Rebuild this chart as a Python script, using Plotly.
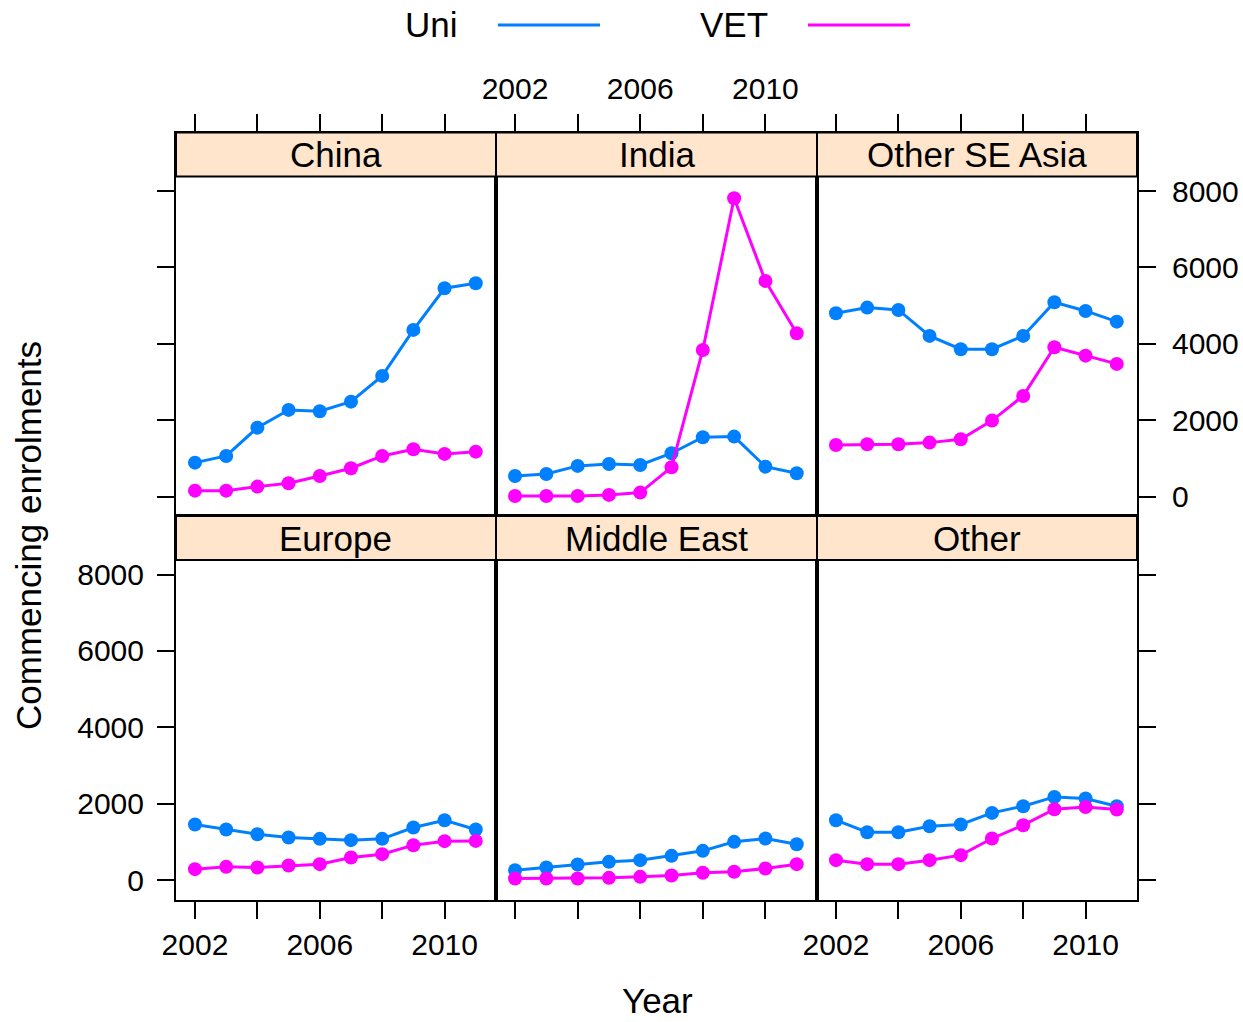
import plotly.graph_objects as go

years = list(range(2002, 2012))
regions = ["China", "India", "Other SE Asia", "Europe", "Middle East", "Other"]

uni_china = [890, 1065, 1806, 2270, 2236, 2487, 3160, 4364, 5455, 5586]
vet_china = [157, 157, 262, 351, 542, 743, 1065, 1241, 1118, 1178]
uni_india = [542, 594, 804, 856, 830, 1136, 1555, 1571, 785, 613]
vet_india = [18, 18, 18, 45, 105, 770, 3840, 7811, 5647, 4277]
uni_seasia = [4801, 4948, 4887, 4207, 3859, 3859, 4207, 5089, 4861, 4581]
vet_seasia = [1353, 1372, 1372, 1414, 1503, 1990, 2636, 3911, 3691, 3474]
uni_europe = [1456, 1325, 1203, 1116, 1080, 1046, 1080, 1378, 1569, 1325]
vet_europe = [288, 348, 332, 384, 418, 593, 680, 915, 1020, 1027]
uni_mideast = [261, 332, 410, 479, 523, 636, 767, 1002, 1089, 941]
vet_mideast = [44, 44, 44, 60, 86, 122, 192, 218, 305, 418]
uni_other = [1569, 1255, 1255, 1412, 1456, 1760, 1935, 2178, 2136, 1935]
vet_other = [523, 418, 418, 523, 654, 1090, 1438, 1856, 1916, 1848]

uni_series = [uni_china, uni_india, uni_seasia, uni_europe, uni_mideast, uni_other]
vet_series = [vet_china, vet_india, vet_seasia, vet_europe, vet_mideast, vet_other]

x_tickvals = [2002, 2004, 2006, 2008, 2010]
x_ticktext = ["2002", "", "2006", "", "2010"]
y_tickvals = [0, 2000, 4000, 6000, 8000]
y_ticktext = ["0", "2000", "4000", "6000", "8000"]

UNI_COL = "#0080ff"
VET_COL = "#ff00ff"
STRIP_COL = "#ffe5cc"
FONT = "Liberation Sans, Arial, Helvetica, sans-serif"

W, H = 1243, 1022
def px(x): return x / W
def py(y): return 1 - y / H

col_edges = [(176, 496), (496, 817), (817, 1137)]
row_edges = [(132.5, 516), (516, 899.5)]
strip_h = 44
x_range = [2001.392, 2011.648]
y_range = [-507, 9532]

fig = go.Figure()
layout = {}
shapes = []
annotations = []

for i, reg in enumerate(regions):
    r, c = divmod(i, 3)
    sfx = "" if i == 0 else str(i + 1)
    xref, yref = "x" + sfx, "y" + sfx
    fig.add_trace(go.Scatter(x=years, y=uni_series[i], mode="lines+markers",
                             line=dict(color=UNI_COL, width=3),
                             marker=dict(color=UNI_COL, size=14),
                             xaxis=xref, yaxis=yref, showlegend=False, name="Uni"))
    fig.add_trace(go.Scatter(x=years, y=vet_series[i], mode="lines+markers",
                             line=dict(color=VET_COL, width=3),
                             marker=dict(color=VET_COL, size=14),
                             xaxis=xref, yaxis=yref, showlegend=False, name="VET"))
    x0, x1 = col_edges[c]
    y0, y1 = row_edges[r]
    xax = dict(domain=[px(x0), px(x1)], range=x_range, anchor=yref,
               showgrid=False, zeroline=False, showline=True, linecolor="black",
               linewidth=2, mirror=True, ticks="outside", ticklen=17, tickwidth=2,
               tickcolor="black", tickvals=x_tickvals, ticktext=x_ticktext,
               tickfont=dict(size=30, color="black", family=FONT),
               side="top" if r == 0 else "bottom", automargin=False,
               ticklabelstandoff=3 if r == 0 else 0)
    if r == 0:
        xax["showticklabels"] = (c == 1)
    else:
        xax["showticklabels"] = (c in (0, 2))
    yax = dict(domain=[py(y1), py(y0)], range=y_range, anchor=xref,
               showgrid=False, zeroline=False, showline=True, linecolor="black",
               linewidth=2, mirror=True, tickvals=y_tickvals, ticktext=y_ticktext,
               tickfont=dict(size=30, color="black", family=FONT), automargin=False,
               ticklen=17, tickwidth=2, tickcolor="black",
               ticklabelstandoff=10 if c == 2 else 7)
    if c == 0:
        yax.update(side="left", ticks="outside", showticklabels=(r == 1))
    elif c == 2:
        yax.update(side="right", ticks="outside", showticklabels=(r == 0))
    else:
        yax.update(ticks="", showticklabels=False)
    layout["xaxis" + sfx] = xax
    layout["yaxis" + sfx] = yax
    # strip
    shapes.append(dict(type="rect", xref="paper", yref="paper",
                       x0=px(x0), x1=px(x1), y0=py(y0 + strip_h), y1=py(y0),
                       fillcolor=STRIP_COL, line=dict(color="black", width=2)))
    annotations.append(dict(text=reg, xref="paper", yref="paper",
                            x=px((x0 + x1) / 2), y=py(y0 + strip_h / 2),
                            showarrow=False, xanchor="center", yanchor="middle",
                            font=dict(size=35, color="black", family=FONT)))

# legend (key at top)
for label, col, tx, lx0, lx1 in [("Uni", UNI_COL, 431, 498, 600),
                                 ("VET", VET_COL, 734, 808, 910)]:
    annotations.append(dict(text=label, xref="paper", yref="paper",
                            x=px(tx), y=py(25), showarrow=False,
                            xanchor="center", yanchor="middle",
                            font=dict(size=35, color="black", family=FONT)))
    shapes.append(dict(type="line", xref="paper", yref="paper",
                       x0=px(lx0), x1=px(lx1), y0=py(25), y1=py(25),
                       line=dict(color=col, width=3)))

annotations.append(dict(text="Year", xref="paper", yref="paper",
                        x=px(657), y=py(1000), showarrow=False,
                        xanchor="center", yanchor="middle",
                        font=dict(size=35, color="black", family=FONT)))
annotations.append(dict(text="Commencing enrolments", xref="paper", yref="paper",
                        x=px(28), y=py(536), showarrow=False, textangle=-90,
                        xanchor="center", yanchor="middle",
                        font=dict(size=35, color="black", family=FONT)))

fig.update_layout(width=W, height=H, margin=dict(l=0, r=0, t=0, b=0, pad=0),
                  autosize=False,
                  paper_bgcolor="white", plot_bgcolor="white",
                  shapes=shapes, annotations=annotations, showlegend=False,
                  font=dict(family=FONT, color="black"), **layout)

fig.write_html("out.html", config={"displayModeBar": False},
               post_script="document.body.style.margin='0';document.body.style.overflow='hidden';")
